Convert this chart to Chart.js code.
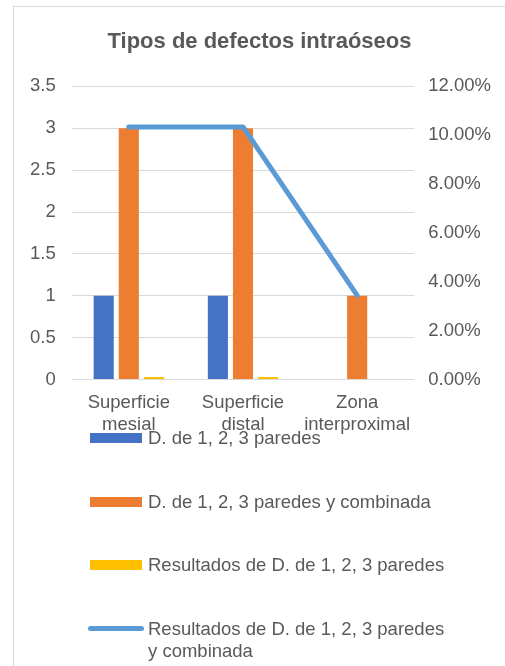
<!DOCTYPE html>
<html>
<head>
<meta charset="utf-8">
<script src="https://cdn.jsdelivr.net/npm/chart.js@4/dist/chart.umd.min.js"></script>
<style>
  html, body { margin: 0; padding: 0; background: #fff; overflow: hidden; }
  .card {
    position: absolute; left: 13px; top: 6px; width: 500px; height: 680px;
    border: 1px solid #d9d9d9; background: #fff;
  }
  .chart-box { position: absolute; left: 0; top: 0; width: 491px; height: 433px; }
  .legend {
    position: absolute; left: 74px; top: 420px;
    display: flex; flex-direction: column; gap: 41.6px;
    font-family: "Liberation Sans", Arial, sans-serif; font-size: 18.5px;
    color: #595959; line-height: 22px;
  }
  .legend .item { display: flex; align-items: flex-start; }
  .legend .mark { width: 56px; height: 22px; position: relative; flex: none; margin-right: 4px; }
  .legend .mark span { position: absolute; left: 2px; right: 2px; top: 6px; height: 10px; }
  .legend .mark span.line { left: 0; right: 0; top: 8px; height: 5px; border-radius: 3px; }
  .legend .text { max-width: 306px; }
</style>
</head>
<body>
<div class="card">
  <div class="chart-box"><canvas id="myChart"></canvas></div>
  <div class="legend" id="legend"></div>
</div>
<script>
const categories = [["Superficie", "mesial"], ["Superficie", "distal"], ["Zona", "interproximal"]];

const paredes = [1, 1, 0];
const paredes_combinada = [3, 3, 1];
const resultados_paredes = [0.03, 0.03, 0];
const resultados_combinada = [10.34, 10.34, 3.45]; // percent

const series_names = [
  "D. de 1, 2, 3 paredes",
  "D. de 1, 2, 3 paredes y combinada",
  "Resultados de D. de 1, 2, 3 paredes",
  "Resultados de D. de 1, 2, 3 paredes y combinada",
];

const series_colors = ["#4472C4", "#ED7D31", "#FFC000", "#5B9BD5"];
const text_color = "#595959";
const grid_color = "#D9D9D9";
const font_family = '"Liberation Sans", Arial, sans-serif';

const ctx = document.getElementById("myChart").getContext("2d");

const chart = new Chart(ctx, {
  type: "bar",
  data: {
    labels: categories,
    datasets: [
      { label: series_names[0], data: paredes, backgroundColor: series_colors[0], order: 1 },
      { label: series_names[1], data: paredes_combinada, backgroundColor: series_colors[1], order: 1 },
      { label: series_names[2], data: resultados_paredes, backgroundColor: series_colors[2], order: 1 },
      {
        type: "line",
        label: series_names[3],
        data: resultados_combinada,
        yAxisID: "y1",
        borderColor: series_colors[3],
        backgroundColor: series_colors[3],
        borderWidth: 5,
        pointRadius: 0,
        tension: 0,
        borderCapStyle: "round",
        borderJoinStyle: "round",
        order: 0,
      },
    ],
  },
  options: {
    responsive: true,
    maintainAspectRatio: false,
    animation: false,
    datasets: {
      bar: { categoryPercentage: 0.66, barPercentage: 0.8 },
    },
    layout: { padding: 0 },
    plugins: {
      legend: { display: false },
      tooltip: { enabled: false },
      title: {
        display: true,
        text: "Tipos de defectos intraóseos",
        color: text_color,
        font: { family: font_family, size: 22, weight: "bold" },
        padding: { top: 22, bottom: 31 },
      },
    },
    scales: {
      x: {
        grid: { display: false },
        border: { display: false },
        ticks: {
          color: text_color,
          font: { family: font_family, size: 18.5 },
          padding: 4,
          maxRotation: 0,
          autoSkip: false,
        },
      },
      y: {
        position: "left",
        min: 0,
        max: 3.5,
        grid: { color: grid_color, drawTicks: false },
        border: { display: false },
        ticks: {
          stepSize: 0.5,
          color: text_color,
          font: { family: font_family, size: 18.5 },
          padding: 16,
          callback: (v) => String(v),
        },
      },
      y1: {
        position: "right",
        min: 0,
        max: 12,
        grid: { display: false, drawTicks: false },
        border: { display: false },
        ticks: {
          stepSize: 2,
          color: text_color,
          font: { family: font_family, size: 18.5 },
          padding: 14,
          callback: (v) => v.toFixed(2) + "%",
        },
      },
    },
  },
});

// legend as html, vertical list like the original
function buildLegend(chart) {
  const box = document.getElementById("legend");
  box.innerHTML = "";
  chart.data.datasets.forEach((ds) => {
    const item = document.createElement("div");
    item.className = "item";
    const mark = document.createElement("div");
    mark.className = "mark";
    const sw = document.createElement("span");
    if (ds.type === "line") sw.className = "line";
    sw.style.background = ds.type === "line" ? ds.borderColor : ds.backgroundColor;
    mark.appendChild(sw);
    const txt = document.createElement("div");
    txt.className = "text";
    txt.textContent = ds.label;
    item.appendChild(mark);
    item.appendChild(txt);
    box.appendChild(item);
  });
}

buildLegend(chart);
</script>
</body>
</html>
